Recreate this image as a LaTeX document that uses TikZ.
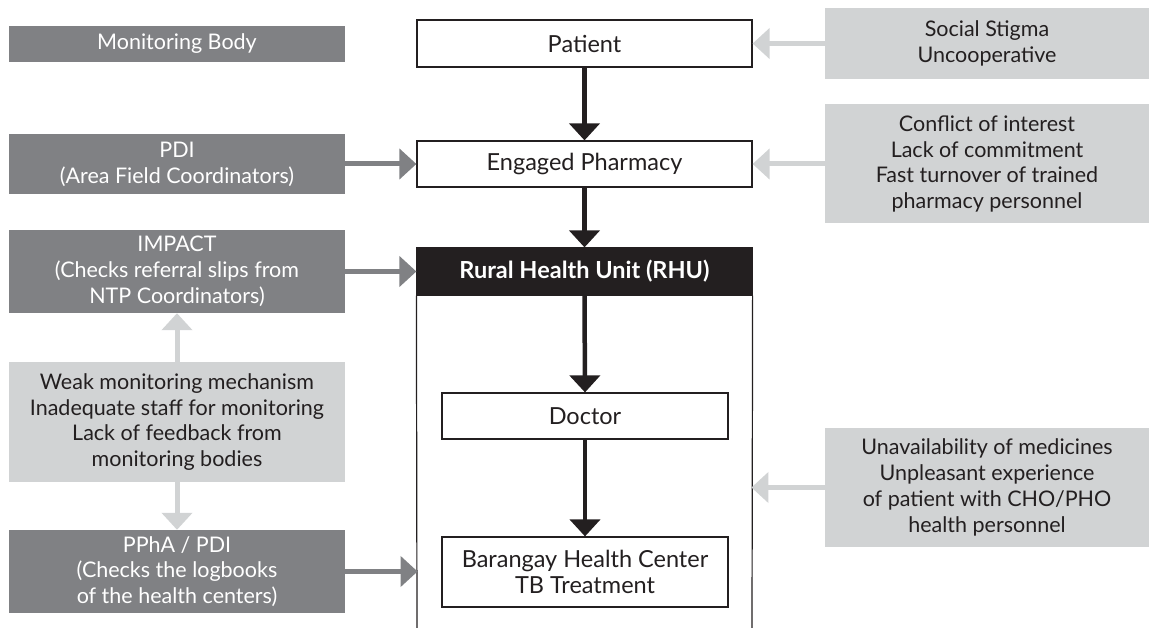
\documentclass[tikz,border=0pt]{standalone}
\usepackage{fontspec}
\setmainfont{Lato}
\usetikzlibrary{arrows.meta,positioning}
\definecolor{dkgray}{HTML}{808184}
\definecolor{ltgray}{HTML}{D1D3D4}
\definecolor{ink}{HTML}{231F20}
\tikzset{
  sidebox/.style={draw=none, fill=dkgray, text=white, minimum width=336pt, inner sep=0pt, align=center, font=\fontsize{21.5}{25.8}\selectfont},
  issuebox/.style={draw=none, fill=ltgray, text=ink, minimum width=324pt, inner sep=0pt, align=center, font=\fontsize{21.5}{25.8}\selectfont},
  flowbox/.style={draw=ink, line width=1.2pt, fill=white, text=ink, inner sep=0pt, align=center, font=\fontsize{23.5}{26.5}\selectfont},
  blackarrow/.style={draw=ink, line width=4.5pt, -{Triangle[width=30pt,length=17pt]}},
  grayarrow/.style={draw=dkgray, line width=5pt, -{Triangle[width=30pt,length=17pt]}},
  lightarrow/.style={draw=ltgray, line width=5pt, -{Triangle[width=30pt,length=17pt]}},
  bodyline/.style={draw=ink, line width=1.2pt}
}
\begin{document}
\begin{tikzpicture}[x=1pt,y=-1pt]
\useasboundingbox (0,0) rectangle (1149,628);
% left column
\node[sidebox, minimum height=36pt] (mon) at (177,44) {Monitoring Body};
\node[sidebox, minimum height=60pt] (pdi) at (177,164) {PDI\\(Area Field Coordinators)};
\node[sidebox, minimum height=83pt] (impact) at (177,271.5) {IMPACT\\(Checks referral slips from\\NTP Coordinators)};
\node[issuebox, minimum width=336pt, minimum height=120pt] (weak) at (177,422) {Weak monitoring mechanism\\Inadequate staff for monitoring\\Lack of feedback from\\monitoring bodies};
\node[sidebox, minimum height=83pt] (ppha) at (177,571.5) {PPhA / PDI\\(Checks the logbooks\\of the health centers)};
% center column
\node[flowbox, minimum width=335pt, minimum height=47pt] (patient) at (584.5,43.5) {Patient};
\node[flowbox, minimum width=335pt, minimum height=46pt] (pharm) at (584.5,164) {Engaged Pharmacy};
\node[flowbox, fill=ink, text=white, minimum width=335pt, minimum height=47pt, font=\fontsize{23.5}{26.5}\selectfont\bfseries] (rhu) at (584.5,271.5) {Rural Health Unit (RHU)};
\coordinate (bodyBL) at (417,628);
\coordinate (bodyBR) at (752,628);
\draw[bodyline] (rhu.south west) -- (bodyBL);
\draw[bodyline] (rhu.south east) -- (bodyBR);
\node[flowbox, minimum width=286pt, minimum height=46pt] (doctor) at (585,416) {Doctor};
\node[flowbox, minimum width=286pt, minimum height=70pt] (bhc) at (585,572) {Barangay Health Center\\TB Treatment};
% right column
\node[issuebox, minimum height=71pt] (stigma) at (987,43.5) {Social Stigma\\Uncooperative};
\node[issuebox, minimum height=119pt] (conflict) at (987,164) {Conflict of interest\\Lack of commitment\\Fast turnover of trained\\pharmacy personnel};
\node[issuebox, minimum height=119pt] (unavail) at (987,487.5) {Unavailability of medicines\\Unpleasant experience\\of patient with CHO/PHO\\health personnel};
% connectors
\coordinate (rhuL) at (417.6,571.5);
\coordinate (rhuR) at (751.4,487.5);
\draw[blackarrow] (patient.south) -- (pharm.north);
\draw[blackarrow] (pharm.south) -- (rhu.north);
\draw[blackarrow] (rhu.south) -- (doctor.north);
\draw[blackarrow] (doctor.south) -- (bhc.north);
\draw[grayarrow] (pdi.east) -- (pharm.west);
\draw[grayarrow] (impact.east) -- (rhu.west);
\draw[grayarrow] (ppha.east) -- (rhuL);
\draw[lightarrow] (weak.north) -- (impact.south);
\draw[lightarrow] (weak.south) -- (ppha.north);
\draw[lightarrow] (stigma.west) -- (patient.east);
\draw[lightarrow] (conflict.west) -- (pharm.east);
\draw[lightarrow] (unavail.west) -- (rhuR);
\end{tikzpicture}
\end{document}
